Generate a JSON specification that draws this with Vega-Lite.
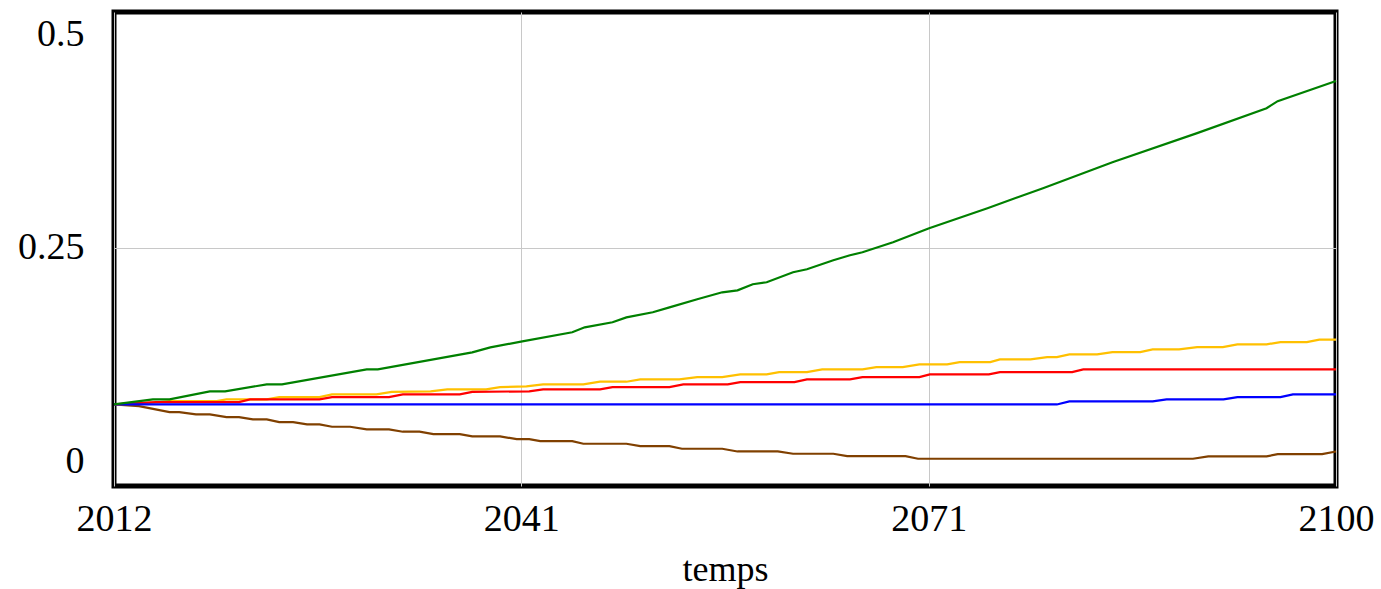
{
  "$schema": "https://vega.github.io/schema/vega-lite/v6.json",
  "autosize": "none",
  "width": 1222,
  "height": 474,
  "padding": {"left": 114, "top": 12, "right": 45, "bottom": 103},
  "background": "white",
  "config": {
    "view": {"stroke": "black", "strokeWidth": 5},
    "axis": {"labelFont": "Liberation Serif", "titleFont": "Liberation Serif", "labelColor": "black", "titleColor": "black", "domain": false, "ticks": false, "gridColor": "#c8c8c8", "gridWidth": 1}
  },
  "datasets": {
    "series": [
      {"s": "brown", "year": 2012, "value": 0.0667},
      {"s": "brown", "year": 2013.8, "value": 0.0648},
      {"s": "brown", "year": 2016.0, "value": 0.0577},
      {"s": "brown", "year": 2016.7, "value": 0.0577},
      {"s": "brown", "year": 2017.9, "value": 0.055},
      {"s": "brown", "year": 2018.9, "value": 0.055},
      {"s": "brown", "year": 2020.1, "value": 0.0519},
      {"s": "brown", "year": 2021.0, "value": 0.0519},
      {"s": "brown", "year": 2022.0, "value": 0.0492},
      {"s": "brown", "year": 2023.0, "value": 0.0492},
      {"s": "brown", "year": 2023.9, "value": 0.046},
      {"s": "brown", "year": 2024.9, "value": 0.046},
      {"s": "brown", "year": 2025.9, "value": 0.0433},
      {"s": "brown", "year": 2026.8, "value": 0.0433},
      {"s": "brown", "year": 2027.7, "value": 0.0406},
      {"s": "brown", "year": 2029.0, "value": 0.0406},
      {"s": "brown", "year": 2030.2, "value": 0.0375},
      {"s": "brown", "year": 2031.8, "value": 0.0375},
      {"s": "brown", "year": 2032.8, "value": 0.0348},
      {"s": "brown", "year": 2034.0, "value": 0.0348},
      {"s": "brown", "year": 2035.0, "value": 0.032},
      {"s": "brown", "year": 2036.9, "value": 0.032},
      {"s": "brown", "year": 2037.8, "value": 0.0293},
      {"s": "brown", "year": 2039.8, "value": 0.0293},
      {"s": "brown", "year": 2041.0, "value": 0.0261},
      {"s": "brown", "year": 2041.9, "value": 0.0261},
      {"s": "brown", "year": 2042.7, "value": 0.0238},
      {"s": "brown", "year": 2045.0, "value": 0.0238},
      {"s": "brown", "year": 2045.8, "value": 0.0207},
      {"s": "brown", "year": 2048.9, "value": 0.0207},
      {"s": "brown", "year": 2049.9, "value": 0.0179},
      {"s": "brown", "year": 2052.0, "value": 0.0179},
      {"s": "brown", "year": 2052.9, "value": 0.0149},
      {"s": "brown", "year": 2055.8, "value": 0.0149},
      {"s": "brown", "year": 2056.9, "value": 0.0117},
      {"s": "brown", "year": 2059.8, "value": 0.0117},
      {"s": "brown", "year": 2060.9, "value": 0.009},
      {"s": "brown", "year": 2063.8, "value": 0.009},
      {"s": "brown", "year": 2064.8, "value": 0.0062},
      {"s": "brown", "year": 2069.0, "value": 0.0062},
      {"s": "brown", "year": 2069.9, "value": 0.0032},
      {"s": "brown", "year": 2089.7, "value": 0.0032},
      {"s": "brown", "year": 2090.8, "value": 0.0059},
      {"s": "brown", "year": 2095.0, "value": 0.0059},
      {"s": "brown", "year": 2095.8, "value": 0.0085},
      {"s": "brown", "year": 2099.0, "value": 0.0085},
      {"s": "brown", "year": 2100, "value": 0.0117},

      {"s": "yellow", "year": 2012, "value": 0.0667},
      {"s": "yellow", "year": 2015, "value": 0.069},
      {"s": "yellow", "year": 2016, "value": 0.0706},
      {"s": "yellow", "year": 2019.4, "value": 0.0706},
      {"s": "yellow", "year": 2020.1, "value": 0.0726},
      {"s": "yellow", "year": 2023.0, "value": 0.0726},
      {"s": "yellow", "year": 2023.9, "value": 0.0753},
      {"s": "yellow", "year": 2026.8, "value": 0.0753},
      {"s": "yellow", "year": 2027.7, "value": 0.0785},
      {"s": "yellow", "year": 2030.9, "value": 0.0785},
      {"s": "yellow", "year": 2032.0, "value": 0.0815},
      {"s": "yellow", "year": 2034.8, "value": 0.082},
      {"s": "yellow", "year": 2036.0, "value": 0.0843},
      {"s": "yellow", "year": 2038.8, "value": 0.0843},
      {"s": "yellow", "year": 2039.8, "value": 0.087},
      {"s": "yellow", "year": 2041.7, "value": 0.0878},
      {"s": "yellow", "year": 2042.9, "value": 0.0902},
      {"s": "yellow", "year": 2045.8, "value": 0.0902},
      {"s": "yellow", "year": 2047.0, "value": 0.0933},
      {"s": "yellow", "year": 2048.9, "value": 0.0933},
      {"s": "yellow", "year": 2049.9, "value": 0.096},
      {"s": "yellow", "year": 2052.7, "value": 0.096},
      {"s": "yellow", "year": 2054.0, "value": 0.0987},
      {"s": "yellow", "year": 2055.8, "value": 0.0987},
      {"s": "yellow", "year": 2057.1, "value": 0.1019},
      {"s": "yellow", "year": 2059.0, "value": 0.1019},
      {"s": "yellow", "year": 2059.9, "value": 0.1046},
      {"s": "yellow", "year": 2061.9, "value": 0.1046},
      {"s": "yellow", "year": 2063.0, "value": 0.1077},
      {"s": "yellow", "year": 2065.9, "value": 0.1077},
      {"s": "yellow", "year": 2066.9, "value": 0.1104},
      {"s": "yellow", "year": 2068.8, "value": 0.1104},
      {"s": "yellow", "year": 2070.0, "value": 0.1136},
      {"s": "yellow", "year": 2072.0, "value": 0.1136},
      {"s": "yellow", "year": 2072.9, "value": 0.1163},
      {"s": "yellow", "year": 2075.1, "value": 0.1163},
      {"s": "yellow", "year": 2075.8, "value": 0.1194},
      {"s": "yellow", "year": 2078.0, "value": 0.1194},
      {"s": "yellow", "year": 2079.2, "value": 0.1221},
      {"s": "yellow", "year": 2079.9, "value": 0.1221},
      {"s": "yellow", "year": 2080.8, "value": 0.1253},
      {"s": "yellow", "year": 2082.8, "value": 0.1253},
      {"s": "yellow", "year": 2083.9, "value": 0.128},
      {"s": "yellow", "year": 2085.9, "value": 0.128},
      {"s": "yellow", "year": 2086.8, "value": 0.1311},
      {"s": "yellow", "year": 2088.7, "value": 0.1311},
      {"s": "yellow", "year": 2090.0, "value": 0.1338},
      {"s": "yellow", "year": 2091.85, "value": 0.1338},
      {"s": "yellow", "year": 2092.9, "value": 0.137},
      {"s": "yellow", "year": 2095.0, "value": 0.137},
      {"s": "yellow", "year": 2096.0, "value": 0.1397},
      {"s": "yellow", "year": 2097.9, "value": 0.1397},
      {"s": "yellow", "year": 2098.8, "value": 0.1425},
      {"s": "yellow", "year": 2100, "value": 0.1425},

      {"s": "red", "year": 2012, "value": 0.0667},
      {"s": "red", "year": 2015, "value": 0.0695},
      {"s": "red", "year": 2021.0, "value": 0.0695},
      {"s": "red", "year": 2021.8, "value": 0.0726},
      {"s": "red", "year": 2026.8, "value": 0.0726},
      {"s": "red", "year": 2027.7, "value": 0.0753},
      {"s": "red", "year": 2031.8, "value": 0.0753},
      {"s": "red", "year": 2032.8, "value": 0.0785},
      {"s": "red", "year": 2036.9, "value": 0.0785},
      {"s": "red", "year": 2037.8, "value": 0.0815},
      {"s": "red", "year": 2041.9, "value": 0.082},
      {"s": "red", "year": 2042.9, "value": 0.0843},
      {"s": "red", "year": 2047.0, "value": 0.0843},
      {"s": "red", "year": 2047.9, "value": 0.087},
      {"s": "red", "year": 2052.0, "value": 0.087},
      {"s": "red", "year": 2053.0, "value": 0.0902},
      {"s": "red", "year": 2056.2, "value": 0.0902},
      {"s": "red", "year": 2057.1, "value": 0.0929},
      {"s": "red", "year": 2061.0, "value": 0.0929},
      {"s": "red", "year": 2061.9, "value": 0.096},
      {"s": "red", "year": 2065.0, "value": 0.096},
      {"s": "red", "year": 2065.9, "value": 0.0987},
      {"s": "red", "year": 2070.0, "value": 0.0987},
      {"s": "red", "year": 2070.75, "value": 0.1019},
      {"s": "red", "year": 2075.0, "value": 0.1019},
      {"s": "red", "year": 2075.8, "value": 0.1046},
      {"s": "red", "year": 2081.0, "value": 0.1046},
      {"s": "red", "year": 2081.8, "value": 0.1077},
      {"s": "red", "year": 2100, "value": 0.1077},

      {"s": "blue", "year": 2012, "value": 0.0667},
      {"s": "blue", "year": 2079.9, "value": 0.0667},
      {"s": "blue", "year": 2080.8, "value": 0.0703},
      {"s": "blue", "year": 2086.8, "value": 0.0703},
      {"s": "blue", "year": 2087.8, "value": 0.0726},
      {"s": "blue", "year": 2091.9, "value": 0.0726},
      {"s": "blue", "year": 2092.9, "value": 0.0753},
      {"s": "blue", "year": 2096.0, "value": 0.0753},
      {"s": "blue", "year": 2096.9, "value": 0.0785},
      {"s": "blue", "year": 2100, "value": 0.0785},

      {"s": "green", "year": 2012, "value": 0.0667},
      {"s": "green", "year": 2014.8, "value": 0.0726},
      {"s": "green", "year": 2016.0, "value": 0.0726},
      {"s": "green", "year": 2018.9, "value": 0.082},
      {"s": "green", "year": 2020.0, "value": 0.082},
      {"s": "green", "year": 2023.0, "value": 0.0902},
      {"s": "green", "year": 2024.1, "value": 0.0902},
      {"s": "green", "year": 2030.2, "value": 0.1077},
      {"s": "green", "year": 2031.0, "value": 0.1077},
      {"s": "green", "year": 2037.8, "value": 0.1276},
      {"s": "green", "year": 2039.1, "value": 0.1335},
      {"s": "green", "year": 2041.4, "value": 0.1405},
      {"s": "green", "year": 2045.0, "value": 0.1511},
      {"s": "green", "year": 2045.9, "value": 0.1569},
      {"s": "green", "year": 2047.9, "value": 0.1628},
      {"s": "green", "year": 2048.9, "value": 0.1686},
      {"s": "green", "year": 2050.8, "value": 0.1745},
      {"s": "green", "year": 2052.0, "value": 0.1803},
      {"s": "green", "year": 2054.0, "value": 0.1897},
      {"s": "green", "year": 2055.8, "value": 0.1979},
      {"s": "green", "year": 2056.9, "value": 0.2002},
      {"s": "green", "year": 2058.0, "value": 0.2073},
      {"s": "green", "year": 2059.0, "value": 0.2096},
      {"s": "green", "year": 2060.9, "value": 0.2213},
      {"s": "green", "year": 2061.9, "value": 0.2248},
      {"s": "green", "year": 2063.8, "value": 0.2354},
      {"s": "green", "year": 2065.0, "value": 0.2412},
      {"s": "green", "year": 2065.9, "value": 0.2447},
      {"s": "green", "year": 2068.1, "value": 0.2564},
      {"s": "green", "year": 2070.7, "value": 0.2728},
      {"s": "green", "year": 2074.9, "value": 0.2963},
      {"s": "green", "year": 2078.9, "value": 0.3197},
      {"s": "green", "year": 2083.9, "value": 0.3501},
      {"s": "green", "year": 2090.0, "value": 0.3841},
      {"s": "green", "year": 2095.0, "value": 0.4133},
      {"s": "green", "year": 2095.8, "value": 0.4215},
      {"s": "green", "year": 2100, "value": 0.445}
    ]
  },
  "data": {"name": "series"},
  "mark": {"type": "line", "strokeWidth": 2.2, "interpolate": "linear"},
  "encoding": {
    "x": {
      "field": "year", "type": "quantitative",
      "scale": {"domain": [2012, 2100], "nice": false, "zero": false},
      "axis": {
        "title": "temps", "titleFontSize": 36, "titleFontWeight": "normal", "titlePadding": 14,
        "values": [2012, 2041.3333, 2070.6667, 2100],
        "labelExpr": "format(round(datum.value), 'd')",
        "labelFontSize": 38, "labelPadding": 14, "labelFlush": false, "labelOverlap": false,
        "grid": true
      }
    },
    "y": {
      "field": "value", "type": "quantitative",
      "scale": {"domain": [-0.0287, 0.5258], "nice": false, "zero": false},
      "axis": {
        "title": null,
        "values": [0, 0.25, 0.5],
        "labelExpr": "toString(datum.value)",
        "labelFontSize": 38, "labelPadding": 30, "labelFlush": false, "labelOverlap": false,
        "grid": true,
        "gridOpacity": {"condition": {"test": "datum.value == 0.25", "value": 1}, "value": 0}
      }
    },
    "color": {
      "field": "s", "type": "nominal", "legend": null,
      "scale": {"domain": ["brown", "yellow", "red", "blue", "green"], "range": ["#804000", "#FFC000", "#FF0000", "#0000FF", "#008000"]}
    }
  }
}
